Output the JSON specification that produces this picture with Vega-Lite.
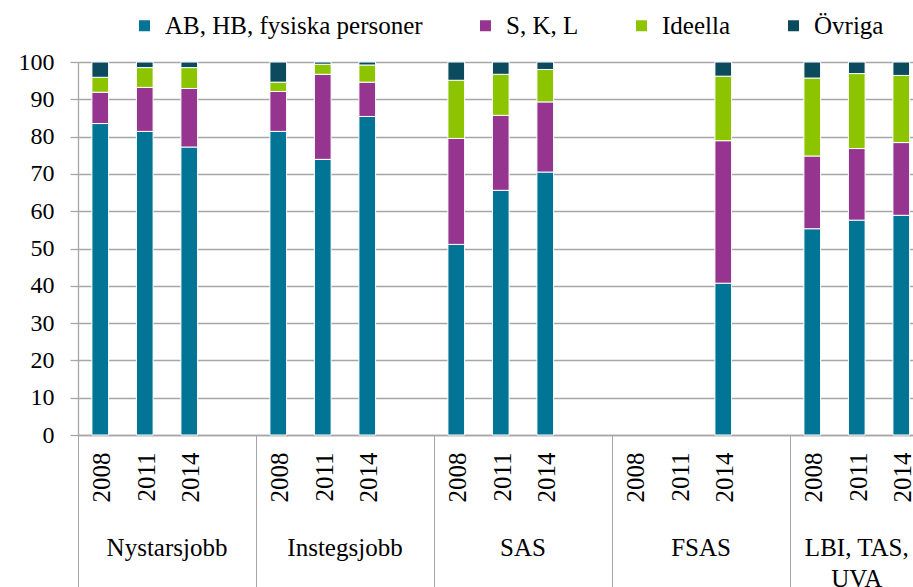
{
  "$schema": "https://vega.github.io/schema/vega-lite/v6.json",
  "width": 835,
  "height": 373,
  "autosize": {"type": "none"},
  "padding": {"left": 78, "top": 62, "right": 0, "bottom": 152},
  "background": "white",
  "config": {
    "view": {"stroke": null},
    "font": "Liberation Serif",
    "axis": {"labelFont": "Liberation Serif"},
    "legend": {"labelFont": "Liberation Serif"}
  },
  "datasets": {
    "ordning": [
      {"typ": "AB, HB, fysiska personer", "nr": 1},
      {"typ": "S, K, L", "nr": 2},
      {"typ": "Ideella", "nr": 3},
      {"typ": "Övriga", "nr": 4}
    ]
  },
  "data": {"values": [
    {"slot": "Nystarsjobb|2008", "typ": "AB, HB, fysiska personer", "andel": 83.5},
    {"slot": "Nystarsjobb|2008", "typ": "S, K, L", "andel": 8.4},
    {"slot": "Nystarsjobb|2008", "typ": "Ideella", "andel": 4.0},
    {"slot": "Nystarsjobb|2008", "typ": "Övriga", "andel": 4.1},
    {"slot": "Nystarsjobb|2011", "typ": "AB, HB, fysiska personer", "andel": 81.4},
    {"slot": "Nystarsjobb|2011", "typ": "S, K, L", "andel": 11.8},
    {"slot": "Nystarsjobb|2011", "typ": "Ideella", "andel": 5.3},
    {"slot": "Nystarsjobb|2011", "typ": "Övriga", "andel": 1.5},
    {"slot": "Nystarsjobb|2014", "typ": "AB, HB, fysiska personer", "andel": 77.2},
    {"slot": "Nystarsjobb|2014", "typ": "S, K, L", "andel": 15.7},
    {"slot": "Nystarsjobb|2014", "typ": "Ideella", "andel": 5.6},
    {"slot": "Nystarsjobb|2014", "typ": "Övriga", "andel": 1.5},
    {"slot": "Instegsjobb|2008", "typ": "AB, HB, fysiska personer", "andel": 81.4},
    {"slot": "Instegsjobb|2008", "typ": "S, K, L", "andel": 10.7},
    {"slot": "Instegsjobb|2008", "typ": "Ideella", "andel": 2.5},
    {"slot": "Instegsjobb|2008", "typ": "Övriga", "andel": 5.4},
    {"slot": "Instegsjobb|2011", "typ": "AB, HB, fysiska personer", "andel": 73.9},
    {"slot": "Instegsjobb|2011", "typ": "S, K, L", "andel": 22.8},
    {"slot": "Instegsjobb|2011", "typ": "Ideella", "andel": 2.7},
    {"slot": "Instegsjobb|2011", "typ": "Övriga", "andel": 0.6},
    {"slot": "Instegsjobb|2014", "typ": "AB, HB, fysiska personer", "andel": 85.4},
    {"slot": "Instegsjobb|2014", "typ": "S, K, L", "andel": 9.2},
    {"slot": "Instegsjobb|2014", "typ": "Ideella", "andel": 4.6},
    {"slot": "Instegsjobb|2014", "typ": "Övriga", "andel": 0.8},
    {"slot": "SAS|2008", "typ": "AB, HB, fysiska personer", "andel": 51.1},
    {"slot": "SAS|2008", "typ": "S, K, L", "andel": 28.4},
    {"slot": "SAS|2008", "typ": "Ideella", "andel": 15.6},
    {"slot": "SAS|2008", "typ": "Övriga", "andel": 4.9},
    {"slot": "SAS|2011", "typ": "AB, HB, fysiska personer", "andel": 65.6},
    {"slot": "SAS|2011", "typ": "S, K, L", "andel": 20.1},
    {"slot": "SAS|2011", "typ": "Ideella", "andel": 11.0},
    {"slot": "SAS|2011", "typ": "Övriga", "andel": 3.3},
    {"slot": "SAS|2014", "typ": "AB, HB, fysiska personer", "andel": 70.5},
    {"slot": "SAS|2014", "typ": "S, K, L", "andel": 18.8},
    {"slot": "SAS|2014", "typ": "Ideella", "andel": 8.7},
    {"slot": "SAS|2014", "typ": "Övriga", "andel": 2.0},
    {"slot": "FSAS|2014", "typ": "AB, HB, fysiska personer", "andel": 40.7},
    {"slot": "FSAS|2014", "typ": "S, K, L", "andel": 38.2},
    {"slot": "FSAS|2014", "typ": "Ideella", "andel": 17.3},
    {"slot": "FSAS|2014", "typ": "Övriga", "andel": 3.8},
    {"slot": "LBI, TAS, UVA|2008", "typ": "AB, HB, fysiska personer", "andel": 55.3},
    {"slot": "LBI, TAS, UVA|2008", "typ": "S, K, L", "andel": 19.5},
    {"slot": "LBI, TAS, UVA|2008", "typ": "Ideella", "andel": 20.9},
    {"slot": "LBI, TAS, UVA|2008", "typ": "Övriga", "andel": 4.3},
    {"slot": "LBI, TAS, UVA|2011", "typ": "AB, HB, fysiska personer", "andel": 57.6},
    {"slot": "LBI, TAS, UVA|2011", "typ": "S, K, L", "andel": 19.2},
    {"slot": "LBI, TAS, UVA|2011", "typ": "Ideella", "andel": 20.1},
    {"slot": "LBI, TAS, UVA|2011", "typ": "Övriga", "andel": 3.1},
    {"slot": "LBI, TAS, UVA|2014", "typ": "AB, HB, fysiska personer", "andel": 58.9},
    {"slot": "LBI, TAS, UVA|2014", "typ": "S, K, L", "andel": 19.5},
    {"slot": "LBI, TAS, UVA|2014", "typ": "Ideella", "andel": 18.0},
    {"slot": "LBI, TAS, UVA|2014", "typ": "Övriga", "andel": 3.6}
  ]},
  "layer": [
    {
      "transform": [
        {"lookup": "typ", "from": {"data": {"name": "ordning"}, "key": "typ", "fields": ["nr"]}}
      ],
      "mark": {"type": "bar", "width": {"band": 0.375}, "stroke": "white", "strokeWidth": 1},
      "encoding": {
        "x": {
          "field": "slot", "type": "nominal",
          "scale": {
            "domain": ["Nystarsjobb|2008", "Nystarsjobb|2011", "Nystarsjobb|2014", "Nystarsjobb|",
                       "Instegsjobb|2008", "Instegsjobb|2011", "Instegsjobb|2014", "Instegsjobb|",
                       "SAS|2008", "SAS|2011", "SAS|2014", "SAS|",
                       "FSAS|2008", "FSAS|2011", "FSAS|2014", "FSAS|",
                       "LBI, TAS, UVA|2008", "LBI, TAS, UVA|2011", "LBI, TAS, UVA|2014"],
            "range": [0, 845.5],
            "paddingInner": 0,
            "paddingOuter": 0
          },
          "axis": {
            "orient": "bottom",
            "title": null,
            "grid": false,
            "bandPosition": 0,
            "tickSize": 152,
            "tickColor": "#a6a6a6",
            "tickWidth": 1,
            "tickOpacity": {"condition": {"test": "indexof('' + datum.value, '|2008') > 0", "value": 1}, "value": 0},
            "domainColor": "#a6a6a6",
            "domainWidth": 1.3,
            "labelExpr": "split('' + datum.value, '|')[1]",
            "labelAngle": 270,
            "labelAlign": "right",
            "labelBaseline": "middle",
            "labelOffset": 2,
            "labelPadding": -135,
            "labelFont": "Liberation Serif",
            "labelFontSize": 25,
            "labelColor": "black",
            "labelOverlap": false,
            "labelBound": false
          }
        },
        "y": {
          "field": "andel", "type": "quantitative", "stack": "zero",
          "scale": {"domain": [0, 100], "nice": false},
          "axis": {
            "title": null,
            "values": [0, 10, 20, 30, 40, 50, 60, 70, 80, 90, 100],
            "labelFont": "Liberation Serif",
            "labelFontSize": 24,
            "labelColor": "black",
            "labelPadding": 16,
            "tickSize": 8,
            "tickColor": "#a6a6a6",
            "tickWidth": 1.3,
            "domainColor": "#a6a6a6",
            "domainWidth": 1.3,
            "gridColor": "#a6a6a6",
            "gridWidth": 1.3
          }
        },
        "color": {
          "field": "typ", "type": "nominal",
          "scale": {
            "domain": ["AB, HB, fysiska personer", "S, K, L", "Ideella", "Övriga"],
            "range": ["#027596", "#963590", "#8CC400", "#0C4A5E"]
          },
          "legend": {
            "orient": "none",
            "legendX": 54,
            "legendY": -49,
            "direction": "horizontal",
            "title": null,
            "symbolType": "square",
            "symbolSize": 121,
            "symbolStrokeWidth": 0,
            "labelFont": "Liberation Serif",
            "labelFontSize": 25,
            "labelColor": "black",
            "labelOffset": 8,
            "columnPadding": 50,
            "labelLimit": 400
          }
        },
        "order": {"field": "nr", "type": "quantitative", "sort": "ascending"}
      }
    },
    {
      "mark": {"type": "rule", "opacity": 0},
      "encoding": {
        "x": {
          "field": "slot", "type": "nominal",
          "axis": {
            "orient": "bottom",
            "title": null,
            "ticks": false,
            "domain": false,
            "grid": false,
            "labelAngle": 0,
            "labelAlign": "center",
            "labelBaseline": "top",
            "labelPadding": 100,
            "labelFont": "Liberation Serif",
            "labelFontSize": 25,
            "labelLineHeight": 31,
            "labelColor": "black",
            "labelOverlap": false,
            "labelBound": false,
            "labelOffset": {"condition": {"test": "indexof('' + datum.value, 'LBI') == 0", "value": 0}, "value": -22.25},
            "labelExpr": "datum.value == 'LBI, TAS, UVA|2011' ? ['LBI, TAS,', 'UVA'] : (indexof('' + datum.value, '|2014') > 0 && indexof('' + datum.value, 'LBI') < 0 ? split('' + datum.value, '|')[0] : '')"
          }
        }
      }
    }
  ],
  "resolve": {"axis": {"x": "independent"}}
}
